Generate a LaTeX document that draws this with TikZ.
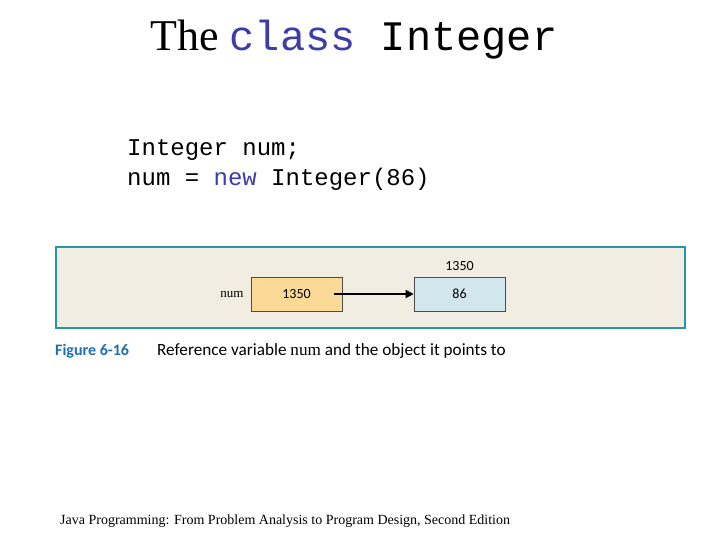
\documentclass[tikz,border=0pt]{standalone}
\usepackage{fontspec}
\setmainfont{Liberation Serif}
\setmonofont{Liberation Mono}
\setsansfont{Carlito}
\usetikzlibrary{arrows.meta}
\definecolor{kw}{RGB}{60,60,170}
\definecolor{panel}{RGB}{242,237,226}
\definecolor{teal}{RGB}{40,150,170}
\definecolor{orangebox}{RGB}{250,218,150}
\definecolor{bluebox}{RGB}{210,230,238}
\definecolor{figblue}{RGB}{30,110,180}
\begin{document}
\begin{tikzpicture}[x=1pt,y=-1pt,
  cell/.style={draw=black!70,line width=0.6pt,minimum width=91pt,minimum height=34pt,font=\sffamily\fontsize{14}{14}\selectfont,inner sep=0pt},
  txt/.style={inner sep=0pt,anchor=west}]
\useasboundingbox (0,0) rectangle (720,540);
\node[txt] (title) at (150,40) {\fontsize{44}{44}\selectfont The \ttfamily\fontsize{42}{42}\selectfont\textcolor{kw}{class} Integer};
\node[txt] (c1) at (127,150) {\ttfamily\fontsize{24}{24}\selectfont Integer num;};
\node[txt] (c2) at (127,179) {\ttfamily\fontsize{24}{24}\selectfont num = \textcolor{kw}{new} Integer(86)};
\node[draw=teal,line width=1.5pt,fill=panel,minimum width=629pt,minimum height=81pt,anchor=north west,inner sep=0pt] (panel) at (55,246) {};
\node[cell,fill=orangebox] (ref) at (296.5,294) {1350};
\node[cell,fill=bluebox] (obj) at (459.5,294) {86};
\node[inner sep=0pt,font=\fontsize{13}{13}\selectfont\rmfamily] (numlbl) at (232,294) {num};
\node[inner sep=0pt,font=\sffamily\fontsize{14}{14}\selectfont] (addr) at (459.5,266) {1350};
\draw[-{Triangle[length=8pt,width=8pt]},line width=1.3pt] ([xshift=-8pt]ref.center -| ref.east) -- (obj.west);
\node[txt,font=\sffamily\bfseries\fontsize{16}{16}\selectfont,text=figblue] (fig) at (55,351) {Figure 6-16};
\node[txt,font=\sffamily\fontsize{17.2}{17.2}\selectfont] (cap) at (157,351) {Reference variable \textrm{num} and the object it points to};
\node[txt,font=\fontsize{14}{14}\selectfont] (foot) at (60,521) {Java Programming: From Problem Analysis to Program Design, Second Edition};
\end{tikzpicture}
\end{document}
